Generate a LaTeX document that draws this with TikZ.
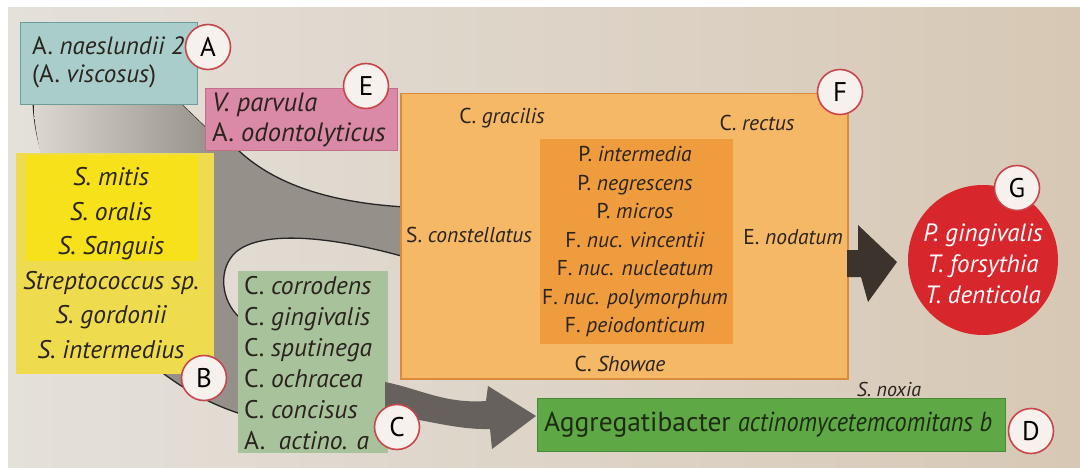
\documentclass[tikz,border=0pt]{standalone}
\usepackage{fontspec}
\setmainfont{PT Sans}
\definecolor{paperL}{HTML}{E4E0DA}
\definecolor{paperR}{HTML}{D7C8B5}
\definecolor{ink}{HTML}{2A231E}
\definecolor{tealbox}{HTML}{A9CDCB}
\definecolor{tealedge}{HTML}{6E9C9A}
\definecolor{pinkbox}{HTML}{DA8AA6}
\definecolor{pinkedge}{HTML}{C0708C}
\definecolor{yelbox}{HTML}{EEDC4E}
\definecolor{yelcore}{HTML}{F6E11A}
\definecolor{sagebox}{HTML}{A8C39B}
\definecolor{orabox}{HTML}{F4B867}
\definecolor{oraedge}{HTML}{D98A3A}
\definecolor{oracore}{HTML}{EE9C3E}
\definecolor{leafbox}{HTML}{5FA846}
\definecolor{leafedge}{HTML}{4A8A36}
\definecolor{leafink}{HTML}{1E2A12}
\definecolor{redball}{HTML}{D7262C}
\definecolor{tagred}{HTML}{C8464A}
\definecolor{tagfill}{HTML}{F7F1EE}
\definecolor{bandgray}{HTML}{96908A}
\definecolor{bandlight}{HTML}{DCD7CF}
\definecolor{arrowgray}{HTML}{66615C}
\definecolor{arrowdark}{HTML}{3B332C}
\begin{document}
\begin{tikzpicture}[x=1pt,y=-1pt,
  box/.style={inner sep=0pt, anchor=north west, line width=1pt},
  tag/.style={circle, draw=tagred, line width=1.6pt, fill=tagfill, minimum size=45pt,
    inner sep=0pt, text=black, font=\fontsize{27}{27}\selectfont},
  sp/.style={inner sep=0pt, text=ink, font=\fontsize{21.5}{28.5}\selectfont},
  bandedge/.style={draw=black!85, line width=1.3pt}]
\useasboundingbox (0,0) rectangle (1080,468);
\fill[white] (0,0) rectangle (1080,468);
\shade[left color=paperL, right color=paperR] (8,8) rectangle (1080,468);

% grey channel running behind the boxes
\path[fill=bandgray, bandedge]
  (33,100) -- (182,100) -- (181,104) -- (205,127) -- (225,140) -- (238,150)
  .. controls (270,180) and (320,202) .. (405,207) -- (405,257)
  .. controls (330,236) and (262,230) .. (236,252)
  .. controls (218,268) and (220,300) .. (240,318) -- (241,414)
  .. controls (210,404) and (185,390) .. (160,371) -- (42,160) -- (42,153)
  .. controls (38,140) and (34,125) .. (33,100) -- cycle;
\begin{scope}
  \clip (34,104) -- (181,104) -- (205,127) -- (215,160) -- (42,160)
    .. controls (38,140) and (34,125) .. (34,104) -- cycle;
  \shade[left color=bandlight, right color=bandgray] (34,100) rectangle (215,165);
\end{scope}

% boxes
\node[box, fill=tealbox, draw=tealedge, minimum width=177pt, minimum height=82pt] (A) at (20,22) {};
\node[box, fill=pinkbox, draw=pinkedge, minimum width=192pt, minimum height=62pt] (E) at (205,88) {};
\node[box, fill=yelbox, minimum width=198pt, minimum height=220pt] (B) at (15,153) {};
\node[box, fill=yelcore, minimum width=172pt, minimum height=105pt] (Bcore) at (25,155) {};
\node[box, fill=sagebox, minimum width=150pt, minimum height=182pt] (C) at (237,270) {};
\node[box, fill=orabox, draw=oraedge, line width=1.5pt, minimum width=447pt, minimum height=285pt] (F) at (400,93) {};
\node[box, fill=oracore, minimum width=193pt, minimum height=204pt] (Fcore) at (539,139) {};
\node[box, fill=leafbox, draw=leafedge, minimum width=468pt, minimum height=53pt] (D) at (537,398) {};
\node[circle, fill=redball, minimum size=150pt, inner sep=0pt] (G) at (983,260) {};

% block arrows
\fill[arrowgray] (385,382) .. controls (420,389) and (445,404) .. (486,401)
  -- (488,386) -- (536,416) -- (492,449) -- (490,429)
  .. controls (460,430) and (430,421) .. (385,414) -- cycle;
\fill[arrowdark] (847,250) -- (858,250) -- (858,225) -- (897,262) -- (868,302)
  -- (861,277) -- (847,277) -- cycle;

% species lists
\node[sp, font=\fontsize{25}{28}\selectfont, align=left, anchor=west] (Atxt) at (32,62)
  {A. \textit{naeslundii 2}\\(A. \textit{viscosus})};
\node[sp, font=\fontsize{26.5}{30}\selectfont, align=left, anchor=west] (Etxt) at (212,120)
  {\textit{V. parvula}\\A. \textit{odontolyticus}};
\node[sp, font=\fontsize{25.5}{34.6}\selectfont\itshape, align=center] (Btxt) at (111,263)
  {S. mitis\\S. oralis\\S. Sanguis\\Streptococcus sp.\\S. gordonii\\S. intermedius};
\node[sp, font=\fontsize{25.5}{31}\selectfont, align=left, anchor=west] (Ctxt) at (244,363)
  {C. \textit{corrodens}\\C. \textit{gingivalis}\\C. \textit{sputinega}\\C. \textit{ochracea}\\C. \textit{concisus}\\A.\ \ \textit{actino. a}};
\node[sp] (gracilis) at (502,118) {C. \textit{gracilis}};
\node[sp] (rectus) at (757,123) {C. \textit{rectus}};
\node[sp] (constellatus) at (469,235) {S. \textit{constellatus}};
\node[sp] (nodatum) at (793,237) {E. \textit{nodatum}};
\node[sp, align=center] (Ftxt) at (635,242)
  {P. \textit{intermedia}\\P. \textit{negrescens}\\P. \textit{micros}\\F. \textit{nuc. vincentii}\\F. \textit{nuc. nucleatum}\\F. \textit{nuc. polymorphum}\\F. \textit{peiodonticum}};
\node[sp] (showae) at (620,364) {C. \textit{Showae}};
\node[sp, text=white, font=\fontsize{25}{31}\selectfont\itshape, align=center] (Gtxt) at (983,264)
  {P. gingivalis\\T. forsythia\\T. denticola};
\node[sp, text=leafink, font=\fontsize{27.5}{27.5}\selectfont, anchor=west] (Dtxt) at (544,425)
  {Aggregatibacter \scalebox{0.88}[1]{\itshape actinomycetemcomitans b}};
\node[sp, font=\fontsize{20}{20}\selectfont\itshape] (noxia) at (889,389) {S. noxia};

% group tags
\node[tag] (tA) at (208,47) {A};
\node[tag] (tE) at (366,86) {E};
\node[tag] (tF) at (840,92) {F};
\node[tag] (tG) at (1017,188) {G};
\node[tag] (tB) at (204,378) {B};
\node[tag] (tC) at (397,427) {C};
\node[tag] (tD) at (1031,431) {D};
\end{tikzpicture}
\end{document}
